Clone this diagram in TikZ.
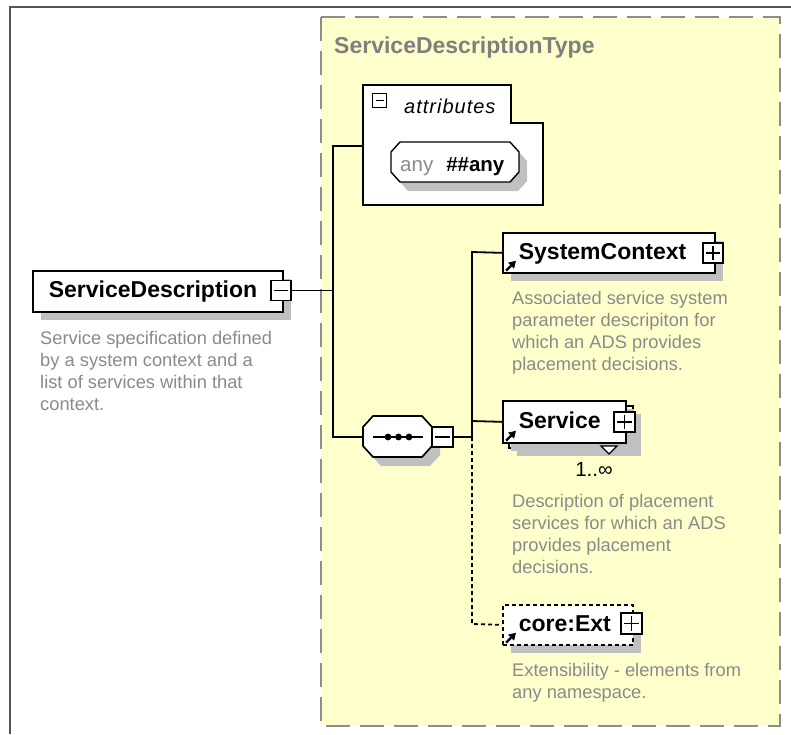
\documentclass[tikz,border=0pt]{standalone}
\usepackage{fontspec}
\setmainfont{Liberation Sans}
\usetikzlibrary{shadows,arrows.meta}
\definecolor{typefill}{HTML}{FFFFCC}
\definecolor{typeedge}{HTML}{8C8C8C}
\definecolor{framegray}{HTML}{555555}
\definecolor{shadowgray}{HTML}{C0C0C0}
\definecolor{descgray}{HTML}{8A8A8A}
\definecolor{titlegray}{HTML}{7F7F7F}
\tikzset{
  conn/.style={line width=1.8pt, draw=black},
  optconn/.style={conn, dash pattern=on 4pt off 3pt},
  namebox/.style={draw, fill=white, line width=1.7pt, anchor=north west,
    inner xsep=16pt, inner ysep=0pt, align=left, text height=16.5pt, text depth=3.5pt,
    font=\fontsize{23}{27}\selectfont\bfseries,
    drop shadow={shadow xshift=8pt, shadow yshift=-8pt, fill=shadowgray, opacity=1}},
  minussign/.style={draw, fill=white, line width=1.4pt, minimum width=20pt, minimum height=20pt, inner sep=0pt,
    path picture={\draw[line width=1.4pt] ([xshift=3pt]path picture bounding box.west) -- ([xshift=-3pt]path picture bounding box.east);}},
  plussign/.style={draw, fill=white, line width=1.4pt, minimum width=20pt, minimum height=20pt, inner sep=0pt,
    path picture={\draw[line width=1.4pt] ([xshift=3pt]path picture bounding box.west) -- ([xshift=-3pt]path picture bounding box.east);
      \draw[line width=1.4pt] ([yshift=-3pt]path picture bounding box.north) -- ([yshift=3pt]path picture bounding box.south);}},
  desc/.style={anchor=north west, inner sep=0pt, align=left, text=descgray, font=\fontsize{18.3}{22}\selectfont},
  refarrow/.style={line width=2.4pt, -{Triangle[length=7pt,width=8pt]}},
}
\begin{document}
\begin{tikzpicture}[x=1pt,y=-1pt]
\useasboundingbox (0,0) rectangle (791,734);
\fill[white] (0,0) rectangle (791,734);
% outer frame
\draw[line width=1.8pt, framegray] (10,734) -- (10,7) -- (791,7);
% complex type box
\draw[line width=1.6pt, draw=typeedge, fill=typefill, dash pattern=on 24pt off 10pt] (321,17) rectangle (780,726);
\node[anchor=base west, inner sep=0pt, text=titlegray, font=\fontsize{23}{27}\selectfont\bfseries] (title) at (334,53) {ServiceDescriptionType};

% attributes box
\draw[line width=1.7pt, fill=white] (363,85) -- (511,85) -- (511,123) -- (543,123) -- (543,205) -- (363,205) -- cycle;
\node[minussign, minimum width=14pt, minimum height=14pt] (attrMinus) at (379.5,100.5) {};
\node[anchor=base west, inner sep=0pt, font=\fontsize{20}{24}\selectfont\itshape\addfontfeature{LetterSpace=5}] (attrLabel) at (404,113) {attributes};
% any attribute octagon
\fill[shadowgray, shift={(8,9)}] (400,142) -- (510,142) -- (519,152) -- (519,172) -- (510,182) -- (400,182) -- (391,172) -- (391,152) -- cycle;
\draw[line width=1.4pt, fill=white] (400,142) -- (510,142) -- (519,152) -- (519,172) -- (510,182) -- (400,182) -- (391,172) -- (391,152) -- cycle;
\node[anchor=base west, inner sep=0pt, font=\fontsize{20.5}{24}\selectfont] (anyLabel) at (400,171) {\textcolor{descgray}{any}\hspace{13pt}\textbf{\#\#any}};

% root element
\node[namebox, text width=218pt, minimum height=41pt] (sd) at (32,270) {ServiceDescription};
\node[minussign] (sdMinus) at (281,290.5) {};
\node[desc] (sdDesc) at (40,329) {\rule{0pt}{15pt}Service specification defined\\by a system context and a\\list of services within that\\context.};

% sequence compositor
\fill[shadowgray, shift={(8,9)}] (373,416) -- (422,416) -- (432,427) -- (432,446) -- (422,457) -- (373,457) -- (363,446) -- (363,427) -- cycle;
\draw[line width=1.7pt, fill=white] (373,416) -- (422,416) -- (432,427) -- (432,446) -- (422,457) -- (373,457) -- (363,446) -- (363,427) -- cycle;
\draw[line width=1.7pt] (373,437) -- (423,437);
\fill (388,437) circle[radius=3.4pt];
\fill (398.5,437) circle[radius=3.4pt];
\fill (409,437) circle[radius=3.4pt];
\node[minussign, minimum width=21pt] (seqMinus) at (442.5,437) {};

% SystemContext
\node[namebox, text width=180pt, minimum height=40pt] (sc) at (502,232) {SystemContext};
\node[plussign] (scPlus) at (713,253) {};
\draw[refarrow] ([shift={(4,-3)}]sc.south west) -- ++(10,-10);
\node[desc] (scDesc) at (512,289) {\rule{0pt}{15pt}Associated service system\\parameter descripiton for\\which an ADS provides\\placement decisions.};

% Service (repeating)
\node[namebox, text width=92pt, minimum height=42pt] (svcBack) at (508,405) {};
\node[namebox, text width=91pt, minimum height=42pt, drop shadow={opacity=0}] (svc) at (502,400) {Service};
\node[plussign, minimum width=21pt] (svcPlus) at (624.5,422) {};
\draw[refarrow] ([shift={(4,-3)}]svc.south west) -- ++(10,-10);
\draw[line width=1.3pt, fill=white] (601,446) -- (617,446) -- (609,454) -- cycle;
\node[anchor=base, inner sep=0pt, font=\fontsize{20.5}{24}\selectfont] (mult) at (594,476) {1..∞};
\node[desc] (svcDesc) at (512,492) {\rule{0pt}{15pt}Description of placement\\services for which an ADS\\provides placement\\decisions.};

% core:Ext (optional)
\node[namebox, text width=98pt, minimum height=40pt, dash pattern=on 4pt off 3pt] (ext) at (502,604) {core:Ext};
\node[plussign, minimum width=21pt, minimum height=21pt] (extPlus) at (631.5,623.5) {};
\draw[refarrow] ([shift={(4,-3)}]ext.south west) -- ++(10,-10);
\node[desc] (extDesc) at (512,661) {\rule{0pt}{15pt}Extensibility - elements from\\any namespace.};

% connectors
\coordinate (s1top) at (333,146);
\coordinate (s1sd) at (333,290.5);
\coordinate (s1bot) at (333,437);
\coordinate (attrW) at (363,146);
\coordinate (seqW) at (363,437);
\coordinate (s2top) at (472,252);
\coordinate (s2svc) at (472,421);
\coordinate (s2mid) at (472,437);
\coordinate (s2bot) at (472,624);
\draw[conn] (sdMinus.east) -- (s1sd);
\draw[conn] (attrW) -- (s1top) -- (s1bot) -- (seqW);
\draw[conn] (seqMinus.east) -- (s2mid);
\draw[conn] (sc.west) -- (s2top) -- (s2mid);
\draw[conn] (svc.west) -- (s2svc);
\draw[optconn] (s2mid) -- (s2bot) -- (ext.west);
\end{tikzpicture}
\end{document}
